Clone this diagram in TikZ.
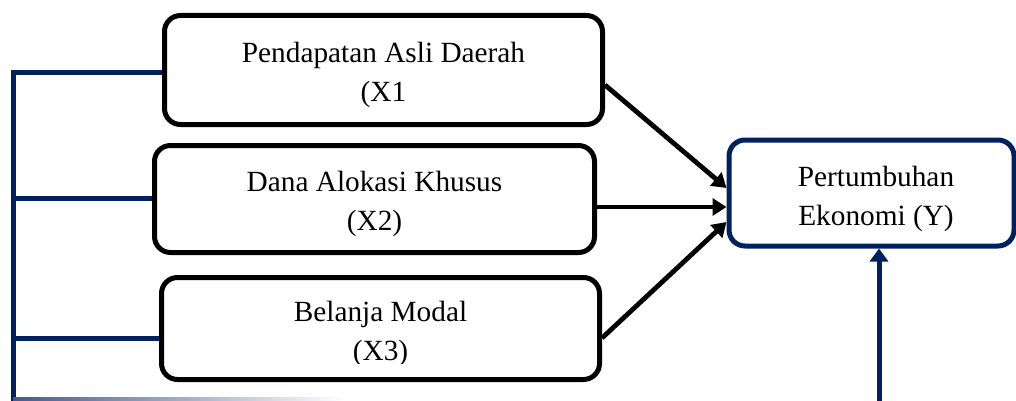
\documentclass[tikz,border=0pt]{standalone}
\usepackage{fontspec}
\setmainfont{Liberation Serif}
\usetikzlibrary{arrows.meta,calc}
\definecolor{navy}{RGB}{0,32,96}
\definecolor{fadeblue}{RGB}{70,90,140}
\begin{document}
\begin{tikzpicture}[x=0.5pt,y=-0.5pt,
  box/.style={draw=black, line width=2.5pt, rounded corners=8pt, inner sep=0pt},
  lbl/.style={font=\fontsize{14.65}{19.25}\selectfont, align=center, inner sep=0pt},
  blk/.style={draw=black, line width=2.4pt, -{Triangle[length=7pt,width=8.5pt]}},
  nv/.style={draw=navy, line width=2.5pt},
]
\useasboundingbox (0,0) rectangle (1016,401);
% boxes
\node[box, minimum width=219pt, minimum height=54.5pt] (x1) at (383.5,70) {};
\node[box, minimum width=220pt, minimum height=53.5pt] (x2) at (374.5,199) {};
\node[box, minimum width=219pt, minimum height=51pt] (x3) at (380.5,328.5) {};
\node[box, draw=navy, line width=2.5pt, minimum width=142.5pt, minimum height=53pt] (y) at (871.5,193) {};
% texts
\node[lbl] (t1) at ($(x1.center)+(0,5)$) {Pendapatan Asli Daerah\\(X1};
\node[lbl] (t2) at ($(x2.center)+(0,5)$) {Dana Alokasi Khusus\\(X2)};
\begin{scope}
  \clip (270,290) rectangle (490,363);
  \node[lbl] (t3) at ($(x3.center)+(0,5.25)$) {Belanja Modal\\(X3)};
\end{scope}
\node[lbl] (ty) at ($(y.center)+(4.5,6)$) {Pertumbuhan\\Ekonomi (Y)};
% black arrows
\draw[blk] ($(x1.east)+(0,15)$) -- ($(y.west)+(0,-5)$);
\draw[blk] ($(x2.east)+(0,8)$) -- ($(y.west)+(0,14)$);
\draw[blk] ($(x3.east)+(0,9.5)$) -- ($(y.west)+(0,29)$);
% navy connectors
\coordinate (lt) at (13,73);
\coordinate (lb) at (13,401);
\path ($(x1.west)+(0,3)$) coordinate (x1w);
\path ($(x2.west)+(0,-1)$) coordinate (x2w);
\path ($(x3.west)+(0,9.5)$) coordinate (x3w);
\draw[nv] (x1w) -- (lt) -- (lb);
\draw[nv] (lt |- x2w) -- (x2w);
\draw[nv] (lt |- x3w) -- (x3w);
\coordinate (yb) at (879,401);
\draw[nv, -{Triangle[length=6.5pt,width=9pt]}] (yb) -- (yb |- y.south);
% faded bottom line
\shade[left color=fadeblue, right color=white] (13,397.5) rectangle (345,400.5);
\end{tikzpicture}
\end{document}
